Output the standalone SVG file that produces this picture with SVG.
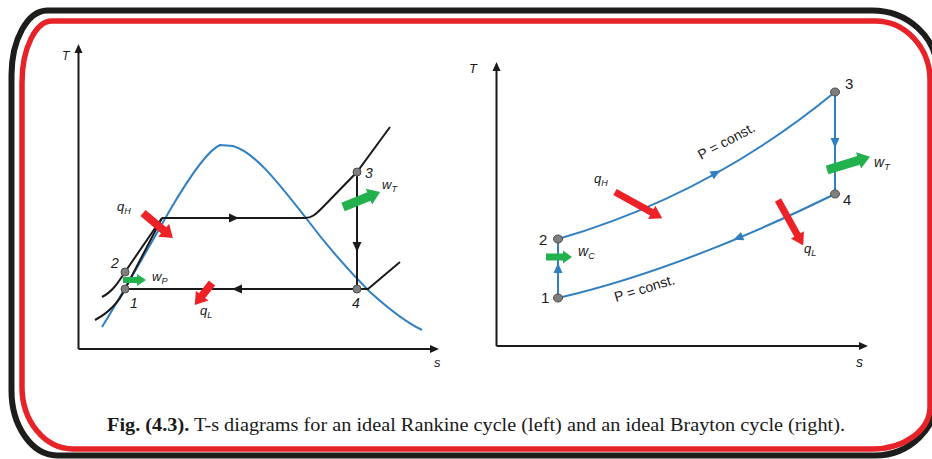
<svg xmlns="http://www.w3.org/2000/svg" width="932" height="459" viewBox="0 0 932 459">
<style>
.ax{fill:none;stroke:#1a1a1a;stroke-width:2}
.bk{fill:none;stroke:#1a1a1a;stroke-width:2}
.bl{fill:none;stroke:#2f7fc1;stroke-width:2}
.dot{fill:#7f7f7f;stroke:#4d4d4d;stroke-width:1}
.red{fill:#ec2227}
.grn{fill:#22b14c}
.lab{font-family:"Liberation Sans",Arial,sans-serif;fill:#1a1a1a}
.it{font-style:italic}
.sub{font-size:9px}
.cap{font-family:"Liberation Serif","Times New Roman",serif;font-size:18px;fill:#1a1a1a}
</style>
<defs>
<path id="tri" d="M5,0 L-5,-4.5 L-5,4.5 Z"/>
<path id="axh" d="M0,0 L-9,-4 L-9,4 Z"/>
</defs>
<rect width="932" height="459" fill="#ffffff"/>
<g id="frame">
<path d="M47,10.5 H872 A65,60 0 0 1 937,70 V395 A62,60 0 0 1 875,455.5 H57 A46,65 0 0 1 11.5,390 V75 A36,65 0 0 1 47,10.5 Z" fill="none" stroke="#1d1d1b" stroke-width="6"/>
<path d="M52,21 H875 A55,59 0 0 1 930,80 V407 A58,42 0 0 1 872,449 H73 A51,62 0 0 1 22,387 V83 A30,62 0 0 1 52,21 Z" fill="none" stroke="#e62329" stroke-width="5.5"/>
</g>
<g id="rankine">
<g id="rankine-axes">
<path class="ax" d="M78.5,349 V52 M78.5,349 H430"/>
<use href="#axh" transform="translate(78.5,44) rotate(-90)" fill="#1a1a1a"/>
<use href="#axh" transform="translate(439,349)" fill="#1a1a1a"/>
<text class="lab it" x="62" y="60" font-size="12">T</text>
<text class="lab it" x="434" y="367" font-size="13">s</text>
</g>
<path id="dome" class="bl" d="M102,327 C120,298 150,245 170,210 C190,176 208,150 220,145 L233,146 C255,152 280,185 306,218 C330,250 350,272 370,292 C390,310 405,322 422,330"/>
<g id="connectors-rankine">
<path class="bk" d="M95,320 C108,313 119,302 125,289 L162,218"/>
<path class="bk" d="M102,297 C112,292 118,283 125,272 L162,218"/>
<path class="bk" d="M162,218 H305 C312,218 316,214 322,208 L357,172 L390,127"/>
<path class="bk" d="M357,172 V289"/>
<path class="bk" d="M125,289 H368 L400,262"/>
<use href="#tri" transform="translate(234,218)" fill="#1a1a1a"/>
<use href="#tri" transform="translate(237,289) rotate(180)" fill="#1a1a1a"/>
<use href="#tri" transform="translate(357,247) rotate(90)" fill="#1a1a1a"/>
</g>
<g id="rankine-states">
<circle class="dot" cx="125" cy="289" r="4"/>
<circle class="dot" cx="125" cy="272" r="4"/>
<circle class="dot" cx="357" cy="172" r="4"/>
<circle class="dot" cx="357" cy="289" r="4"/>
<text class="lab it" x="130" y="308" font-size="14">1</text>
<text class="lab it" x="111" y="268" font-size="14">2</text>
<text class="lab it" x="365" y="178" font-size="14">3</text>
<text class="lab it" x="352" y="308" font-size="14">4</text>
</g>
<g id="rankine-energy">
<polygon class="red" transform="translate(143,213) rotate(40)" points="0,-4 27,-4 27,-8.5 39,0 27,8.5 27,4 0,4"/>
<polygon class="red" transform="translate(212,283) rotate(128)" points="0,-4 16,-4 16,-8 28,0 16,8 16,4 0,4"/>
<polygon class="grn" transform="translate(123,280)" points="0,-3 14,-3 14,-6 23,0 14,6 14,3 0,3"/>
<polygon class="grn" transform="translate(343,207) rotate(-22)" points="0,-4.5 28,-4.5 28,-8.5 40,0 28,8.5 28,4.5 0,4.5"/>
<text class="lab it" x="117" y="211" font-size="13">q<tspan class="sub" dy="3">H</tspan></text>
<text class="lab it" x="152" y="281" font-size="13">w<tspan class="sub" dy="3">P</tspan></text>
<text class="lab it" x="200" y="315" font-size="13">q<tspan class="sub" dy="3">L</tspan></text>
<text class="lab it" x="382" y="189" font-size="13">w<tspan class="sub" dy="3">T</tspan></text>
</g>
</g>
<g id="brayton">
<g id="brayton-axes">
<path class="ax" d="M496.5,346 V70 M496.5,346 H859"/>
<use href="#axh" transform="translate(496.5,62) rotate(-90)" fill="#1a1a1a"/>
<use href="#axh" transform="translate(868,346)" fill="#1a1a1a"/>
<text class="lab it" x="469" y="73" font-size="13">T</text>
<text class="lab it" x="856" y="367" font-size="14">s</text>
</g>
<g id="connectors-brayton">
<path class="bl" d="M558,298 V239"/>
<path class="bl" d="M558,239 Q710,195 835,92"/>
<path class="bl" d="M835,92 V194"/>
<path class="bl" d="M835,194 Q680,270 558,298"/>
<use href="#tri" transform="translate(558,268) rotate(-90)" fill="#2f7fc1"/>
<use href="#tri" transform="translate(716,173) rotate(-29)" fill="#2f7fc1"/>
<use href="#tri" transform="translate(835,143) rotate(90)" fill="#2f7fc1"/>
<use href="#tri" transform="translate(738,238) rotate(158)" fill="#2f7fc1"/>
</g>
<g id="brayton-states">
<ellipse class="dot" cx="558" cy="298" rx="4.5" ry="4"/>
<ellipse class="dot" cx="558" cy="239" rx="4.5" ry="4"/>
<ellipse class="dot" cx="835" cy="92" rx="4.5" ry="4"/>
<ellipse class="dot" cx="835" cy="194" rx="4.5" ry="4"/>
<text class="lab" x="541" y="303" font-size="15">1</text>
<text class="lab" x="539" y="245" font-size="15">2</text>
<text class="lab" x="845" y="89" font-size="15">3</text>
<text class="lab" x="843" y="205" font-size="15">4</text>
</g>
<g id="brayton-energy">
<polygon class="red" transform="translate(615,192) rotate(29)" points="0,-3.5 42,-3.5 42,-7.5 54,0 42,7.5 42,3.5 0,3.5"/>
<polygon class="red" transform="translate(778,200) rotate(61)" points="0,-3.5 40,-3.5 40,-7.5 52,0 40,7.5 40,3.5 0,3.5"/>
<polygon class="grn" transform="translate(546,257)" points="0,-3.5 17,-3.5 17,-6.5 26,0 17,6.5 17,3.5 0,3.5"/>
<polygon class="grn" transform="translate(827,170) rotate(-17)" points="0,-4.5 33,-4.5 33,-8.5 45,0 33,8.5 33,4.5 0,4.5"/>
<text class="lab it" x="594" y="183" font-size="13">q<tspan class="sub" dy="3">H</tspan></text>
<text class="lab it" x="578" y="256" font-size="14">w<tspan class="sub" dy="3">C</tspan></text>
<text class="lab it" x="804" y="253" font-size="13">q<tspan class="sub" dy="3">L</tspan></text>
<text class="lab it" x="874" y="167" font-size="14">w<tspan class="sub" dy="3">T</tspan></text>
<text class="lab" font-size="14" transform="translate(701,160) rotate(-28)">P = const.</text>
<text class="lab" font-size="14" transform="translate(616,302) rotate(-17)">P = const.</text>
</g>
</g>
<text class="cap" x="107" y="431" textLength="738" lengthAdjust="spacingAndGlyphs"><tspan font-weight="bold">Fig. (4.3).</tspan> T-s diagrams for an ideal Rankine cycle (left) and an ideal Brayton cycle (right).</text>
</svg>
